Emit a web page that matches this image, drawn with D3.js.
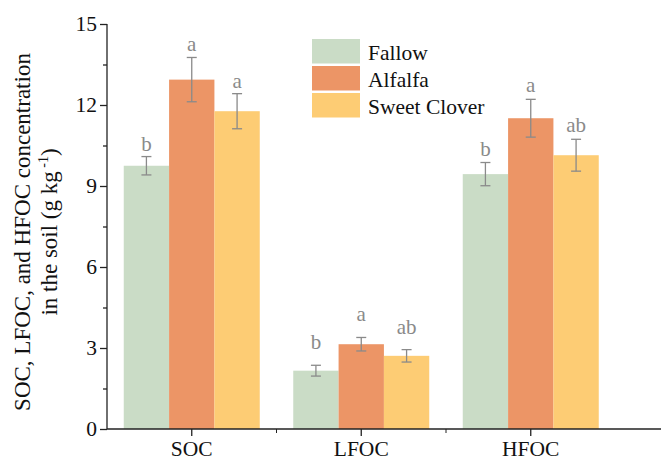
<!DOCTYPE html>
<html>
<head>
<meta charset="utf-8">
<script src="https://cdn.jsdelivr.net/npm/d3@7"></script>
<style>
  body { margin: 0; background: #fff; }
  svg text { font-family: "Liberation Serif", "Times New Roman", serif; }
</style>
</head>
<body>
<svg id="chart" width="662" height="462"></svg>
<script>
// chart data
const groups = ['SOC', 'LFOC', 'HFOC']
const series = ['Fallow', 'Alfalfa', 'Sweet Clover']
const colors = ['#cadcc6', '#ec9566', '#fdcc74']
const fallow = [9.75, 2.16, 9.44]
const alfalfa = [12.94, 3.14, 11.51]
const sweetClover = [11.77, 2.71, 10.14]
const fallowErr = [0.34, 0.2, 0.43]
const alfalfaErr = [0.82, 0.25, 0.7]
const sweetCloverErr = [0.65, 0.23, 0.59]
const fallowSig = ['b', 'b', 'b']
const alfalfaSig = ['a', 'a', 'a']
const sweetCloverSig = ['a', 'ab', 'ab']
const yTicks = [0, 3, 6, 9, 12, 15]
const yMinorTicks = [1.5, 4.5, 7.5, 10.5, 13.5]

const values = [fallow, alfalfa, sweetClover]
const errs = [fallowErr, alfalfaErr, sweetCloverErr]
const sigs = [fallowSig, alfalfaSig, sweetCloverSig]

const serif = '"Liberation Serif", "Times New Roman", serif'

// extra lift for the letters in the LFOC group
const labelGap = { SOC: 6, LFOC: 16, HFOC: 7 }

let svg = d3.select('#chart')
  .attr('font-family', serif)

let plotLeft = 107, plotTop = 24, plotBottom = 429
let band = 169.5

let x = d3.scaleBand()
  .domain(groups)
  .range([plotLeft, plotLeft + band * groups.length])

let xs = d3.scaleBand()
  .domain(series)
  .range([16.75, band - 16.75])

let y = d3.scaleLinear()
  .domain([0, 15])
  .range([plotBottom, plotTop])

let bars = []
groups.forEach((g, gi) => {
  series.forEach((s, si) => {
    bars.push({ group: g, series: s, si: si, v: values[si][gi], e: errs[si][gi], sig: sigs[si][gi] })
  })
})

let g = svg.append('g')

g.selectAll('rect.bar')
  .data(bars)
  .enter().append('rect')
    .attr('class', 'bar')
    .attr('x', d => x(d.group) + xs(d.series))
    .attr('y', d => y(d.v))
    .attr('width', xs.bandwidth())
    .attr('height', d => y(0) - y(d.v))
    .attr('fill', d => colors[d.si])

let cx = d => x(d.group) + xs(d.series) + xs.bandwidth() / 2

let eb = g.selectAll('g.err')
  .data(bars)
  .enter().append('g')
    .attr('class', 'err')
    .attr('stroke', '#8a8a8a')
    .attr('stroke-width', 1.3)

eb.append('line')
  .attr('x1', cx).attr('x2', cx)
  .attr('y1', d => y(d.v + d.e)).attr('y2', d => y(d.v - d.e))
eb.append('line')
  .attr('x1', d => cx(d) - 5).attr('x2', d => cx(d) + 5)
  .attr('y1', d => y(d.v + d.e)).attr('y2', d => y(d.v + d.e))
eb.append('line')
  .attr('x1', d => cx(d) - 5).attr('x2', d => cx(d) + 5)
  .attr('y1', d => y(d.v - d.e)).attr('y2', d => y(d.v - d.e))

g.selectAll('text.sig')
  .data(bars)
  .enter().append('text')
    .attr('class', 'sig')
    .attr('x', cx)
    .attr('y', d => y(d.v + d.e) - labelGap[d.group])
    .attr('text-anchor', 'middle')
    .attr('font-family', serif)
    .attr('fill', '#8a8a8a')
    .attr('font-size', 21)
    .text(d => d.sig)

// y axis
let yAxis = g.append('g')
  .attr('transform', `translate(${plotLeft},0)`)
  .call(d3.axisLeft(y).tickValues(yTicks).tickSize(7).tickPadding(3).tickFormat(d3.format('d')))
yAxis.select('.domain').attr('d', `M0,${plotTop}V${plotBottom}`)

g.append('g')
  .attr('transform', `translate(${plotLeft},0)`)
  .call(d3.axisLeft(y).tickValues(yMinorTicks).tickSize(4).tickFormat(''))
  .select('.domain').remove()

// x axis
let xAxis = g.append('g')
  .attr('transform', `translate(0,${plotBottom})`)
  .call(d3.axisBottom(x).tickSize(7).tickPadding(5))
xAxis.select('.domain').attr('d', `M${plotLeft},0H661`)

let boundaries = groups.slice(1).map(d => x(d))
g.append('g')
  .attr('transform', `translate(0,${plotBottom})`)
  .selectAll('line')
  .data(boundaries)
  .enter().append('line')
    .attr('x1', d => d).attr('x2', d => d)
    .attr('y1', 0).attr('y2', 4)
    .attr('stroke', '#222')

g.selectAll('.tick text')
  .attr('font-family', serif)
  .attr('font-size', 21.5)
  .attr('fill', '#111')
g.selectAll('.domain, .tick line')
  .attr('stroke', '#222')
  .attr('stroke-width', 1.3)

// y title
let title = g.append('text')
  .attr('transform', 'translate(30,232) rotate(-90)')
  .attr('text-anchor', 'middle')
  .attr('font-family', serif)
  .attr('font-size', 23)
  .attr('fill', '#111')
title.append('tspan')
  .attr('x', 0).attr('y', 0)
  .text('SOC, LFOC, and HFOC concentration')
let t2 = title.append('tspan')
  .attr('x', 0).attr('y', 27)
  .text('in the soil (g kg')
t2.append('tspan').attr('font-size', 14).attr('dy', -9).text(' -1')
t2.append('tspan').attr('dy', 9).text(')')

// legend
let legend = g.selectAll('g.legend')
  .data(series)
  .enter().append('g')
    .attr('class', 'legend')
    .attr('transform', (d, i) => `translate(312,${39 + i * 27})`)

legend.append('rect')
  .attr('width', 48)
  .attr('height', 24.5)
  .attr('fill', (d, i) => colors[i])

legend.append('text')
  .attr('x', 56)
  .attr('y', 21)
  .attr('font-family', serif)
  .attr('font-size', 21.5)
  .attr('fill', '#111')
  .text(d => d)
</script>
</body>
</html>
